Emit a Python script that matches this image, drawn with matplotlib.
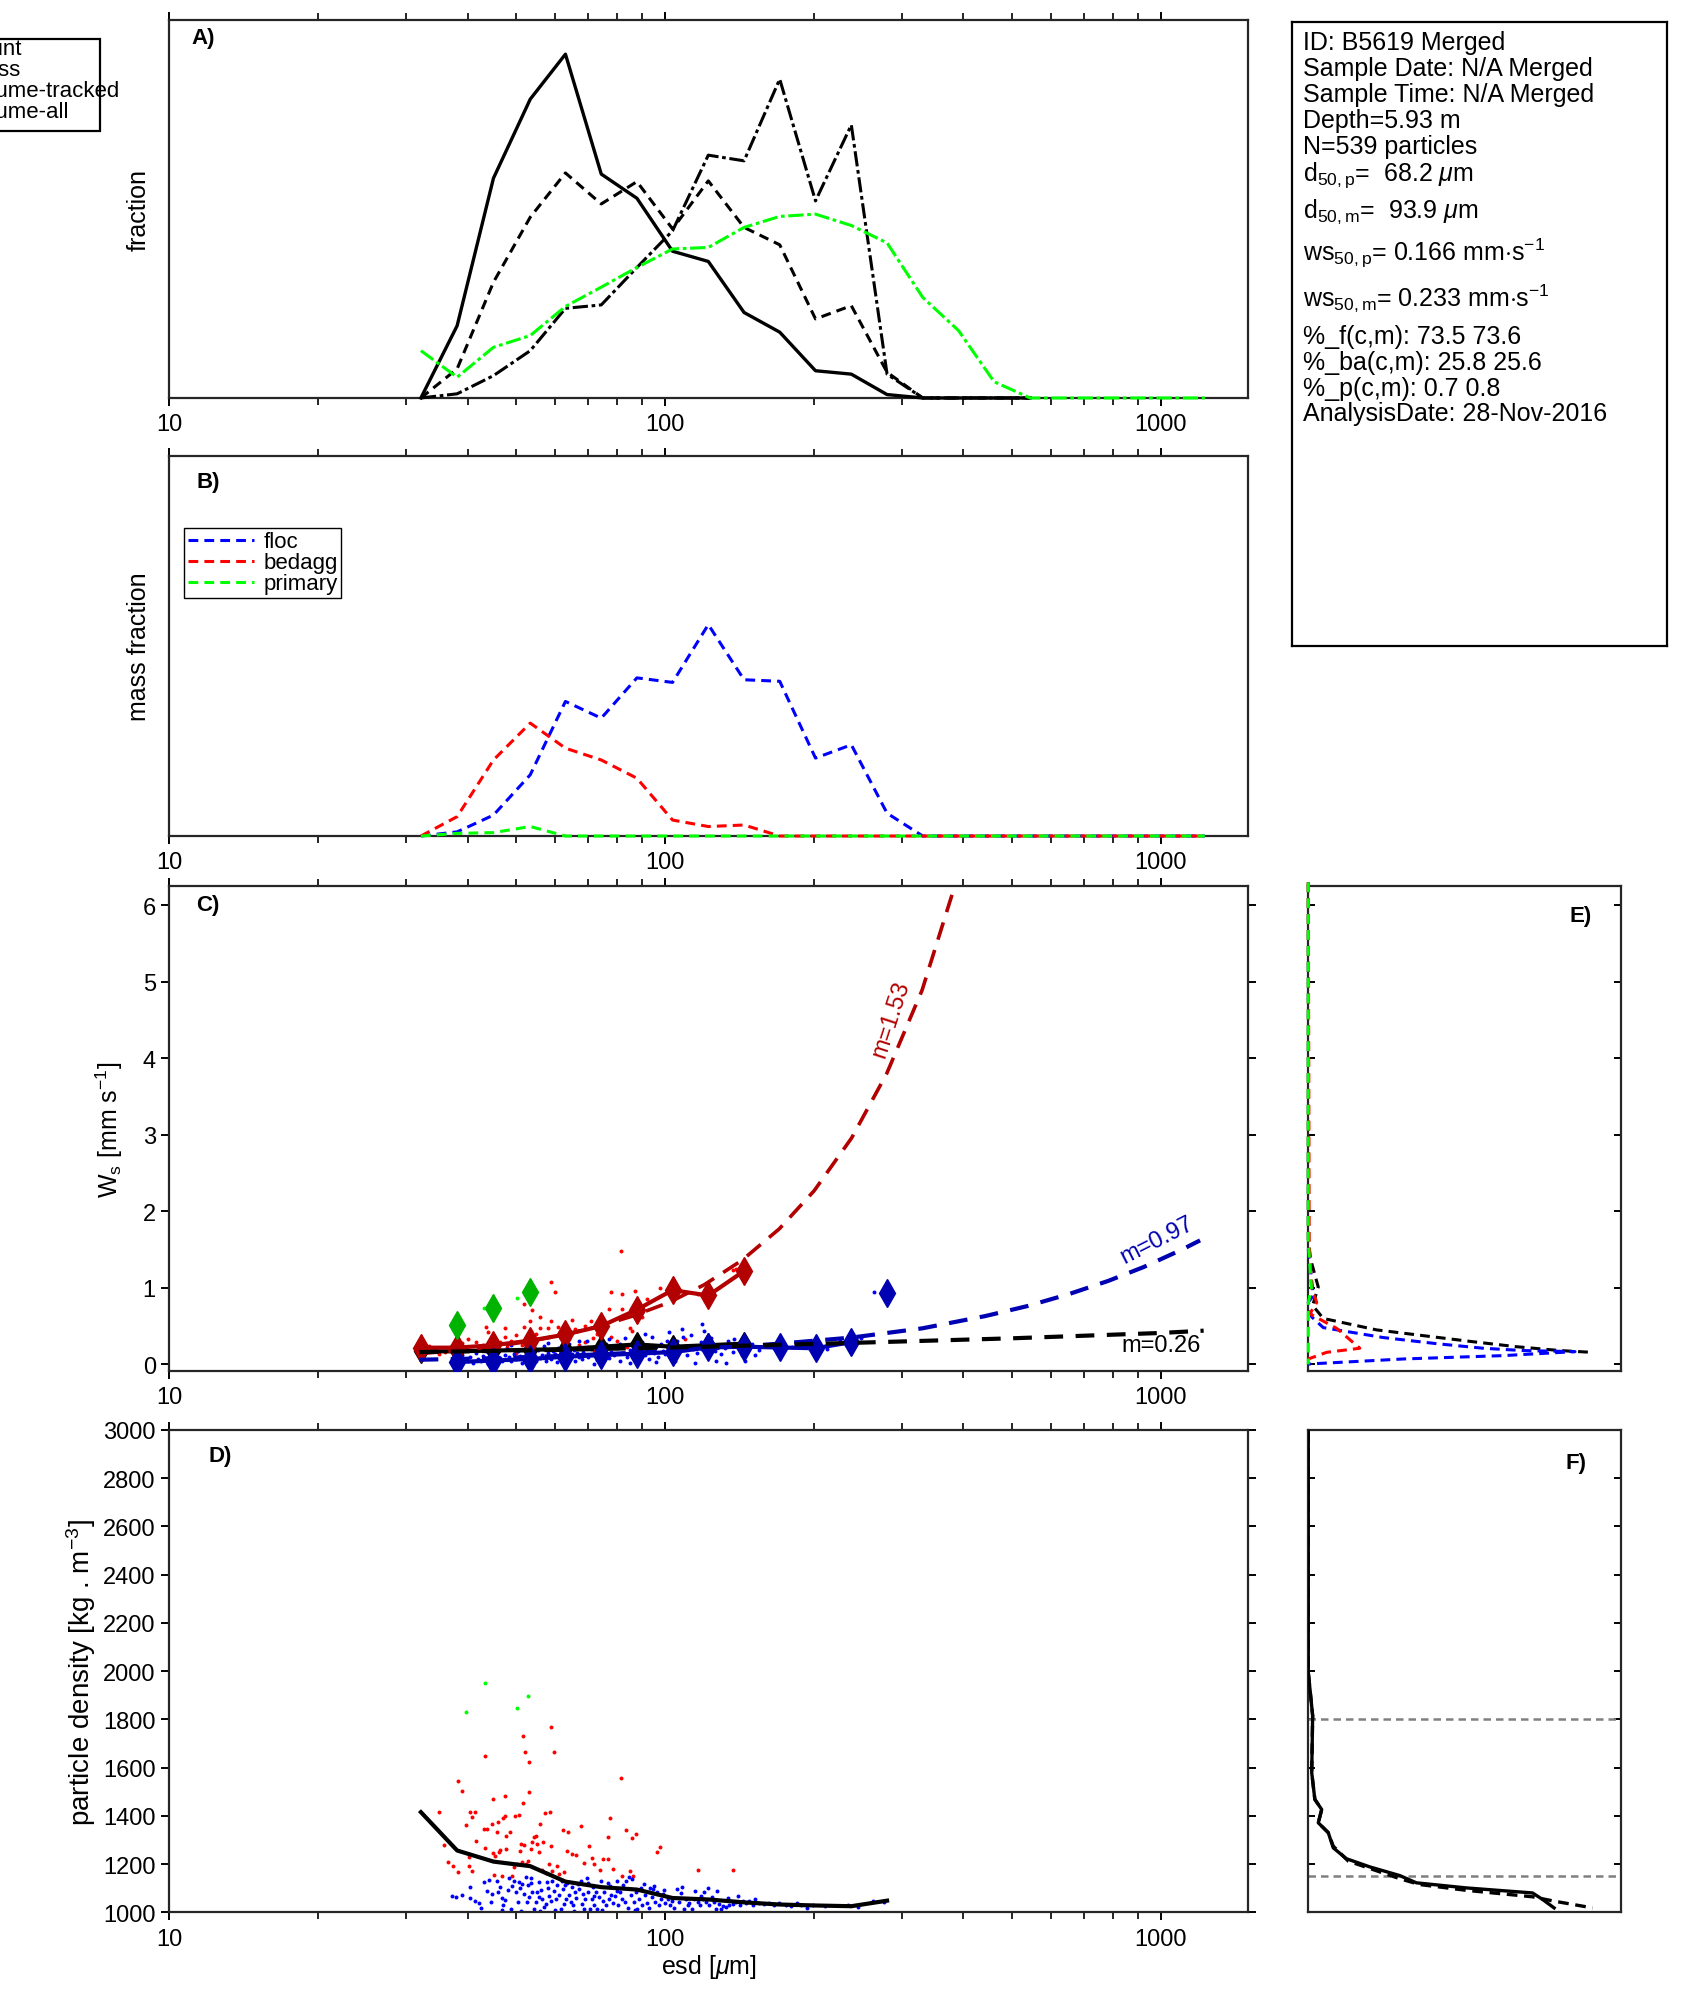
import numpy as np
import matplotlib
matplotlib.use("Agg")
import matplotlib.pyplot as plt
from matplotlib.patches import Rectangle
from matplotlib.ticker import LogLocator, NullFormatter, FixedLocator

plt.rcParams['font.family'] = ['Liberation Sans', 'DejaVu Sans']
plt.rcParams['mathtext.fontset'] = 'custom'
plt.rcParams['mathtext.rm'] = 'Liberation Sans'
plt.rcParams['mathtext.it'] = 'Liberation Sans:italic'
plt.rcParams['axes.linewidth'] = 1.6
plt.rcParams['axes.edgecolor'] = '#262626'

# ---- size bins (esd, um)
bins = [32.2, 38.1, 45.1, 53.5, 63.0, 74.4, 87.8, 103.6, 122.3, 144.4, 170.4, 201.2,
        237.6, 280.5, 331, 391, 461, 545, 643, 759, 896, 1058, 1227]

# ---- panel A (fractions)
frac_count = [0, 0.191, 0.581, 0.790, 0.909, 0.592, 0.528, 0.388, 0.361, 0.226, 0.174,
              0.072, 0.063, 0.009, 0, 0, 0, 0]
frac_mass = [0, 0.077, 0.306, 0.478, 0.595, 0.513, 0.572, 0.447, 0.574, 0.451, 0.405,
             0.209, 0.244, 0.068, 0, 0, 0, 0]
frac_vol_tracked = [0, 0.011, 0.059, 0.125, 0.237, 0.246, 0.345, 0.442, 0.642, 0.627,
                    0.843, 0.521, 0.722, 0.063, 0, 0, 0, 0]
frac_vol_all = [0.125, 0.055, 0.134, 0.165, 0.242, 0.293, 0.345, 0.394, 0.398, 0.451,
                0.480, 0.486, 0.456, 0.410, 0.266, 0.178, 0.043, 0, 0, 0, 0, 0, 0]

# ---- panel B (mass fraction per class)
mass_floc = [0, 0.011, 0.055, 0.161, 0.354, 0.310, 0.416, 0.404, 0.556, 0.411, 0.407,
             0.205, 0.240, 0.060, 0, 0, 0, 0, 0, 0, 0, 0, 0]
mass_bedagg = [0, 0.051, 0.200, 0.297, 0.231, 0.200, 0.152, 0.042, 0.025, 0.029, 0,
               0, 0, 0, 0, 0, 0, 0, 0, 0, 0, 0, 0]
mass_primary = [0, 0.007, 0.009, 0.025, 0, 0, 0, 0, 0, 0, 0, 0, 0, 0, 0, 0, 0, 0, 0,
                0, 0, 0, 0]

# ---- panel C : settling velocity (mm/s)
ws_bedagg_med = [0.218, 0.218, 0.25, 0.31, 0.39, 0.50, 0.715, 0.97, 0.90, 1.22]
ws_floc_med = [0.03, 0.05, 0.07, 0.10, 0.12, 0.14, 0.16, 0.22, 0.23, 0.22, 0.21, 0.29, 0.93]
ws_all_med = [0.17, 0.17, 0.18, 0.19, 0.20, 0.23, 0.26, 0.23, 0.25, 0.27]
ws_primary_med = [0.52, 0.73, 0.94]

fit_bedagg_d = [32, 38, 45, 53, 62, 73, 86, 102, 120, 143, 170, 200, 238, 280, 330, 384, 410]
fit_bedagg_v = [0.14, 0.18, 0.23, 0.30, 0.38, 0.49, 0.63, 0.81, 1.04, 1.36, 1.77, 2.27,
                2.96, 3.80, 4.89, 6.25, 6.80]
fit_floc_d = [32, 45, 62, 86, 120, 170, 238, 330, 442, 537, 654, 783, 922, 1103, 1200]
fit_floc_v = [0.06, 0.08, 0.11, 0.15, 0.20, 0.27, 0.35, 0.47, 0.63, 0.76, 0.92, 1.09,
              1.27, 1.50, 1.62]
fit_all_d = [32, 62, 120, 238, 500, 1000, 1220]
fit_all_v = [0.16, 0.19, 0.23, 0.28, 0.34, 0.41, 0.44]

red_c = [(81.7, 1.48), (58.9, 1.07), (60, 0.95), (52, 0.79), (54, 0.71), (43.5, 0.49),
         (47.6, 0.48), (52, 0.49), (53.5, 0.56), (59, 0.57), (56, 0.48), (55, 0.40),
         (47.5, 0.36), (50, 0.38), (53.5, 0.40), (41.5, 0.29), (43, 0.25), (46.5, 0.29),
         (51.5, 0.25), (58, 0.47), (61, 0.49), (66, 0.46), (69, 0.50), (77.8, 0.94),
         (77, 0.72), (82, 0.92), (87, 0.96), (82, 0.72), (85, 0.48), (86, 0.44),
         (78, 0.36), (73, 0.40), (71.5, 0.34), (69, 0.29), (67, 0.25), (64, 0.33),
         (97.6, 1.0), (116.6, 0.92), (137, 1.23), (139, 1.25), (76, 0.20), (72, 0.18),
         (36, 0.16), (35, 0.14), (33.5, 0.24), (42, 0.20), (50, 0.15), (60, 0.14),
         (45, 0.32), (40, 0.33), (38, 0.36), (56, 0.62), (63, 0.27), (70, 0.22),
         (88, 0.30), (90, 0.62), (98, 0.25), (104, 0.28), (57, 0.20), (48, 0.22),
         (65, 0.58), (74, 0.62), (39, 0.28), (44, 0.42), (62, 0.38), (68, 0.12),
         (80, 0.30), (84, 0.22), (92, 0.86), (110, 0.33), (49, 0.30), (54, 0.27),
         (64, 0.42), (71, 0.56), (46, 0.19), (37, 0.22)]
blue_c = [(38, 0.03), (38.5, 0.08), (39, 0.12), (40, 0.05), (40.5, 0.10), (41, 0.02),
          (41.5, 0.15), (42, 0.07), (42.5, 0.04), (43, 0.11), (43.5, 0.18), (44, 0.06),
          (44.5, 0.09), (45, 0.13), (45.5, 0.03), (46, 0.16), (46.5, 0.08), (47, 0.05),
          (47.5, 0.12), (48, 0.20), (48.5, 0.10), (49, 0.04), (49.5, 0.14), (50, 0.07),
          (50.5, 0.17), (51, 0.11), (51.5, 0.02), (52, 0.09), (52.5, 0.22), (53, 0.13),
          (53.5, 0.06), (54, 0.16), (54.5, 0.10), (55, 0.04), (55.5, 0.19), (56, 0.08),
          (56.5, 0.12), (57, 0.24), (57.5, 0.05), (58, 0.15), (58.5, 0.10), (59, 0.07),
          (59.5, 0.18), (60, 0.13), (60.5, 0.03), (61, 0.21), (61.5, 0.09), (62, 0.14),
          (62.5, 0.06), (63, 0.17), (63.5, 0.11), (64, 0.27), (64.5, 0.08), (65, 0.13),
          (65.5, 0.19), (66, 0.05), (66.5, 0.15), (67, 0.10), (67.5, 0.23), (68, 0.07),
          (68.5, 0.16), (69, 0.12), (69.5, 0.30), (70, 0.09), (71, 0.20), (72, 0.14),
          (73, 0.06), (74, 0.18), (75, 0.11), (76, 0.26), (77, 0.08), (78, 0.16),
          (79, 0.12), (80, 0.21), (81, 0.05), (82, 0.15), (83, 0.34), (84, 0.10),
          (85, 0.19), (86, 0.13), (87, 0.24), (88, 0.08), (89, 0.17), (90, 0.29),
          (91, 0.12), (92, 0.20), (93, 0.07), (94, 0.36), (95, 0.15), (96, 0.22),
          (97, 0.10), (98, 0.27), (99, 0.18), (100, 0.13), (102, 0.42), (103, 0.21),
          (104, 0.09), (106, 0.31), (107, 0.17), (108, 0.46), (110, 0.24), (111, 0.12),
          (113, 0.38), (114, 0.20), (116, 0.15), (118, 0.29), (119, 0.53), (121, 0.22),
          (122, 0.10), (124, 0.34), (126, 0.18), (128, 0.25), (130, 0.13), (132, 0.21),
          (134, 0.30), (137, 0.16), (140, 0.24), (143, 0.12), (146, 0.20), (150, 0.27),
          (155, 0.19), (160, 0.24), (166, 0.21), (172, 0.26), (180, 0.22), (190, 0.23),
          (200, 0.25), (212, 0.20), (225, 0.30), (238, 0.28), (248, 0.34), (264, 0.94),
          (44, 0.01), (49, 0.25), (53, 0.01), (58, 0.28), (63, 0.02), (67, 0.30),
          (72, 0.01), (77, 0.33), (81, 0.27), (85, 0.02), (91, 0.40), (96, 0.03),
          (101, 0.30), (105, 0.04), (109, 0.36), (115, 0.02), (120, 0.44), (127, 0.05),
          (133, 0.02), (138, 0.33), (145, 0.04), (152, 0.12)]
green_c = [(43.2, 0.73), (50.4, 0.87)]

# ---- panel D : particle density (kg/m3)
rho_line = [1415, 1256, 1210, 1191, 1127, 1104, 1094, 1059, 1053, 1041, 1032, 1028, 1025, 1048]
red_d = [(35.0, 1415), (35.8, 1279), (36.5, 1207), (37.4, 1191), (38.3, 1166), (38.3, 1543),
         (38.9, 1502), (39.7, 1362), (40.2, 1228), (40.2, 1191), (40.5, 1415), (40.8, 1394),
         (40.8, 1169), (41.4, 1415), (41.5, 1297), (43.2, 1345), (43.4, 1265), (43.4, 1647),
         (43.7, 1345), (44.9, 1366), (45.1, 1470), (45.1, 1246), (45.3, 1155), (45.5, 1232),
         (45.8, 1334), (46.0, 1373), (46.3, 1249), (46.6, 1256), (46.9, 1152), (47.2, 1390),
         (47.6, 1401), (47.6, 1484), (47.8, 1315), (47.9, 1263), (48.6, 1332), (49.1, 1152),
         (49.6, 1187), (49.9, 1401), (50.2, 1200), (50.8, 1404), (50.9, 1252), (51.2, 1283),
         (51.4, 1210), (51.7, 1453), (51.7, 1730), (51.9, 1279), (52.2, 1663), (52.4, 1200),
         (52.9, 1214), (53.2, 1500), (53.3, 1622), (53.6, 1263), (54.0, 1290), (54.4, 1311),
         (54.9, 1318), (55.3, 1283), (55.7, 1249), (56.1, 1365), (56.4, 1175), (56.8, 1290),
         (57.3, 1410), (57.6, 1162), (58.4, 1200), (58.6, 1417), (58.8, 1276), (58.8, 1767),
         (59.3, 1169), (59.8, 1663), (60.5, 1193), (61.2, 1159), (62.3, 1343), (62.6, 1166),
         (63.6, 1252), (63.9, 1332), (64.9, 1242), (66.3, 1238), (67.7, 1359), (68.8, 1205),
         (70.3, 1274), (71.4, 1224), (72.0, 1200), (74.1, 1177), (75.1, 1221), (76.6, 1221),
         (76.6, 1311), (77.4, 1390), (78.4, 1180), (81.5, 1556), (81.9, 1152), (83.4, 1341),
         (85.0, 1173), (86.0, 1307), (86.4, 1152), (87.4, 1325), (96.6, 1249), (97.7, 1269),
         (116.4, 1175), (137.0, 1175)]
green_d = [(39.7, 1829), (43.4, 1949), (50.4, 1846), (53.0, 1896)]
blue_d = [(37.2, 1066), (37.9, 1062), (39.0, 1072), (40.4, 1058), (40.5, 1104), (41.4, 1046),
          (42.2, 1039), (42.5, 1017), (43.2, 1124), (44.2, 1134), (44.5, 1041), (44.7, 1076),
          (45.9, 1131), (46.1, 1083), (46.6, 1104), (47.0, 1059), (47.1, 1028), (47.6, 1051),
          (48.3, 1094), (48.5, 1141), (48.9, 1014), (49.6, 1131), (50.0, 1083), (50.5, 1041),
          (50.8, 1127), (51.0, 1100), (51.6, 1117), (52.0, 1076), (52.4, 1145), (52.6, 1041),
          (53.0, 1111), (53.3, 1062), (53.6, 1141), (54.0, 1083), (54.5, 1014), (54.9, 1041),
          (55.3, 1083), (55.6, 1127), (55.7, 1062), (56.2, 1094), (56.6, 1055), (57.0, 1023),
          (57.5, 1035), (57.9, 1124), (58.4, 1069), (58.9, 1048), (59.3, 1131), (59.8, 1086),
          (60.3, 1055), (60.7, 1111), (61.2, 1072), (61.7, 1014), (62.0, 1131), (62.2, 1097),
          (62.6, 1035), (63.1, 1055), (63.6, 1122), (64.1, 1072), (64.6, 1041), (64.9, 1104),
          (65.3, 1028), (65.9, 1083), (66.3, 1058), (66.9, 1117), (67.7, 1131), (68.0, 1035),
          (68.2, 1076), (68.7, 1014), (69.1, 1053), (69.5, 1141), (70.1, 1083), (70.6, 1014),
          (71.2, 1055), (71.7, 1104), (72.0, 1028), (72.6, 1083), (73.1, 1014), (73.5, 1062),
          (74.3, 1131), (74.9, 1048), (75.4, 1083), (76.0, 1028), (76.6, 1122), (77.2, 1053),
          (77.8, 1072), (78.4, 1039), (79.4, 1069), (79.9, 1131), (80.6, 1028), (81.1, 1083),
          (81.9, 1055), (82.4, 1111), (83.1, 1044), (84.1, 1017), (84.7, 1145), (85.4, 1072),
          (86.0, 1138), (86.7, 1044), (87.4, 1083), (88.0, 1014), (88.7, 1055), (89.4, 1100),
          (90.1, 1028), (91.3, 1072), (91.8, 1039), (92.7, 1017), (93.3, 1100), (94.1, 1062),
          (94.7, 1097), (95.6, 1044), (96.6, 1083), (97.4, 1028), (98.1, 1055), (98.9, 1076),
          (100.2, 1039), (101.2, 1055), (102.3, 1028), (103.3, 1048), (104.4, 1017),
          (105.6, 1097), (106.9, 1044), (108.2, 1104), (109.4, 1014), (110.3, 1055),
          (111.1, 1028), (112.0, 1039), (113.4, 1014), (114.6, 1055), (115.1, 1090),
          (116.4, 1041), (117.7, 1028), (119.1, 1053), (120.1, 1083), (121.0, 1044),
          (122.0, 1100), (122.9, 1030), (124.4, 1062), (125.8, 1041), (127.2, 1090),
          (128.3, 1035), (129.7, 1014), (130.7, 1025), (132.8, 1021), (134.8, 1028),
          (137.0, 1035), (139.1, 1044), (140.2, 1069), (141.7, 1028), (143.5, 1048),
          (145.7, 1039), (148.0, 1048), (150.3, 1030), (152.1, 1053), (155.0, 1039),
          (158.6, 1035), (162.3, 1039), (166.2, 1028), (170.2, 1039), (175.5, 1030),
          (179.6, 1025), (184.5, 1037), (188.2, 1028), (193.3, 1017), (198.7, 1028),
          (209.8, 1025), (233.6, 1030), (244.7, 1022), (262.5, 1048), (277.0, 1044),
          (43.8, 1089), (46.9, 1008), (49.2, 1110), (51.3, 1006), (53.8, 1120), (56.0, 1007),
          (58.1, 1100), (60.0, 1009), (62.9, 1115), (65.6, 1005), (67.2, 1096), (69.9, 1120),
          (71.9, 1066), (74.6, 1008), (77.5, 1108), (80.2, 1090), (83.6, 1128), (87.0, 1008),
          (90.6, 1118), (95.1, 1110), (99.6, 1092), (107.5, 1078), (118.4, 1066),
          (126.5, 1012), (133.9, 1060)]

# ---- panel E : ws distributions (fraction, ws)
e_all_x = [0, 0, 0.007, 0.032, 0.014, 0.048, 0.219, 0.358, 0.518, 0.667, 0.806, 0.907]
e_all_y = [6.3, 1.64, 1.38, 1.01, 0.77, 0.60, 0.45, 0.38, 0.30, 0.23, 0.18, 0.157]
e_floc_x = [0, 0.016, 0, 0.011, 0.048, 0.240, 0.411, 0.560, 0.688, 0.854, 0.624, 0.304, 0]
e_floc_y = [1.51, 0.90, 0.81, 0.62, 0.48, 0.35, 0.27, 0.21, 0.18, 0.166, 0.114, 0.07, 0.004]
e_bedagg_x = [0, 0.003, 0.011, 0.027, 0.005, 0.091, 0.165, 0.059, 0]
e_bedagg_y = [6.3, 1.55, 0.99, 0.81, 0.66, 0.47, 0.21, 0.157, 0.07]
e_primary_x = [0, 0, 0.010, 0, 0]
e_primary_y = [6.3, 1.6, 1.0, 0.8, 0.0]

# ---- panel F : density distributions (fraction, density)
f_solid_x = [0, 0, 0.014, 0.011, 0.021, 0.043, 0.032, 0.064, 0.080, 0.122, 0.197, 0.293,
             0.346, 0.505, 0.718, 0.750, 0.787]
f_solid_y = [2993, 1995, 1815, 1579, 1468, 1426, 1371, 1330, 1267, 1222, 1188, 1152,
             1122, 1101, 1080, 1053, 1018]
f_dash_x = [0, 0, 0.014, 0.011, 0.021, 0.043, 0.032, 0.064, 0.080, 0.128, 0.293, 0.356,
            0.505, 0.718, 0.787, 0.910]
f_dash_y = [2993, 1995, 1815, 1579, 1468, 1426, 1371, 1330, 1274, 1212, 1139, 1115,
            1091, 1064, 1046, 1018]
f_limits = [1800, 1150]

info_lines = [
    ('ID: B5619 Merged', 50),
    ('Sample Date: N/A Merged', 76),
    ('Sample Time: N/A Merged', 102),
    ('Depth=5.93 m', 128),
    ('N=539 particles', 154),
    (r'd$_{\mathrm{50,p}}$=  68.2 $\mu$m', 181),
    (r'd$_{\mathrm{50,m}}$=  93.9 $\mu$m', 218),
    (r'ws$_{\mathrm{50,p}}$= 0.166 mm$\cdot$s$^{\mathrm{-1}}$', 261),
    (r'ws$_{\mathrm{50,m}}$= 0.233 mm$\cdot$s$^{\mathrm{-1}}$', 306),
    ('%_f(c,m): 73.5 73.6', 344),
    ('%_ba(c,m): 25.8 25.6', 370),
    ('%_p(c,m): 0.7 0.8', 396),
    ('AnalysisDate: 28-Nov-2016', 421),
]

DARKRED = (0.7, 0, 0)
DARKBLUE = (0, 0, 0.7)
DARKGREEN = (0, 0.7, 0)
LIME = (0, 1, 0)
FS = 17
LFS = 18

fig = plt.figure(figsize=(16.94, 20.15), dpi=100)


def logx(ax):
    ax.set_xscale('log')
    ax.set_xlim(10, 1500)
    ax.xaxis.set_major_locator(FixedLocator([10, 100, 1000]))
    ax.xaxis.set_minor_locator(LogLocator(base=10, subs=np.arange(2, 10)))
    ax.xaxis.set_minor_formatter(NullFormatter())
    ax.set_xticklabels(['10', '100', '1000'])
    ax.tick_params(axis='x', which='major', direction='out', length=6, width=1.4,
                   top=True, labelsize=FS, pad=5)
    ax.tick_params(axis='x', which='minor', direction='out', length=5, width=1.2, top=True)


def panel_label(ax, s, x, y):
    ax.text(x, y, s, transform=ax.transAxes, fontsize=16, fontweight='bold',
            ha='left', va='center')


# ----- A
axA = fig.add_axes([0.0998, 0.802, 0.637, 0.1877])
nb = len(frac_count)
lA1, = axA.plot(bins[:nb], frac_count, color='k', lw=2.4, ls='-', clip_on=False, zorder=3)
lA2, = axA.plot(bins[:nb], frac_mass, color='k', lw=2.2, dashes=(3.2, 2.0), clip_on=False, zorder=3)
lA3, = axA.plot(bins[:nb], frac_vol_tracked, color='k', lw=2.2, dashes=(5, 1.2, 1.2, 1.2),
                clip_on=False, zorder=3)
lA4, = axA.plot(bins, frac_vol_all, color=LIME, lw=2.2, dashes=(5, 1.2, 1.2, 1.2),
                clip_on=False, zorder=3)
axA.set_ylim(0, 1)
axA.set_yticks([])
logx(axA)
axA.set_ylabel('fraction', fontsize=LFS)
axA.yaxis.set_label_coords(-0.017, 0.5)
panel_label(axA, 'A)', 0.021, 0.953)
fig.legend([lA1, lA2, lA3, lA4], ['count', 'mass', 'volume-tracked', 'volume-all'],
           loc='upper right', bbox_to_anchor=(0.072, 0.9815), fontsize=16,
           frameon=False, labelspacing=0.0, borderpad=0.1, handlelength=2.5,
           handletextpad=0.5, borderaxespad=0)
fig.patches.append(Rectangle((-0.01, 0.9344), 0.0691, 0.0459, transform=fig.transFigure,
                             fill=False, ec='k', lw=1.6))

# ----- B
axB = fig.add_axes([0.0998, 0.5846, 0.637, 0.1887])
lB1, = axB.plot(bins, mass_floc, color='b', lw=2.2, dashes=(3.2, 2.0), clip_on=False, zorder=3)
lB2, = axB.plot(bins, mass_bedagg, color='r', lw=2.2, dashes=(3.2, 2.0), clip_on=False, zorder=3)
lB3, = axB.plot(bins, mass_primary, color=LIME, lw=2.2, dashes=(3.2, 2.0), clip_on=False, zorder=3)
axB.set_ylim(0, 1)
axB.set_yticks([])
logx(axB)
axB.set_ylabel('mass fraction', fontsize=LFS)
axB.yaxis.set_label_coords(-0.017, 0.5)
panel_label(axB, 'B)', 0.025, 0.932)
axB.legend([lB1, lB2, lB3], ['floc', 'bedagg', 'primary'], loc='upper left',
           bbox_to_anchor=(0.0143, 0.81), fontsize=16, frameon=True, fancybox=False,
           edgecolor='k', framealpha=1, labelspacing=0.0, borderpad=0.15,
           handlelength=3, handletextpad=0.4, borderaxespad=0)

# ----- C
axC = fig.add_axes([0.0998, 0.319, 0.637, 0.2407])
axC.scatter([p[0] for p in red_c], [p[1] for p in red_c], s=8, color='r', lw=0, zorder=2)
axC.scatter([p[0] for p in blue_c], [p[1] for p in blue_c], s=8, color='b', lw=0, zorder=2)
axC.scatter([p[0] for p in green_c], [p[1] for p in green_c], s=8, color=LIME, lw=0, zorder=2)
axC.plot(bins[:10], ws_bedagg_med, color=DARKRED, lw=3, marker='d', ms=14, zorder=4)
axC.plot(bins[1:13], ws_floc_med[:12], color=DARKBLUE, lw=3, marker='d', ms=14, zorder=4)
axC.plot(bins[13:14], ws_floc_med[12:], color=DARKBLUE, ls='none', marker='d', ms=14, zorder=4)
axC.plot(bins[:10], ws_all_med, color='k', lw=3, marker='d', ms=12, zorder=3)
axC.plot(bins[1:4], ws_primary_med, color=DARKGREEN, ls='none', marker='d', ms=14, zorder=4)
axC.plot(fit_bedagg_d, fit_bedagg_v, color=DARKRED, lw=2.6, dashes=(5, 3), zorder=5)
axC.plot(fit_floc_d, fit_floc_v, color=DARKBLUE, lw=3, dashes=(4.5, 3), zorder=5)
axC.plot(fit_all_d, fit_all_v, color='k', lw=3, dashes=(4.5, 3), zorder=5)
axC.text(286, 4.52, 'm=1.53', color=DARKRED, fontsize=FS, rotation=72,
         ha='center', va='center')
axC.text(985, 1.63, 'm=0.97', color=DARKBLUE, fontsize=FS, rotation=27,
         ha='center', va='center')
axC.text(1000, 0.25, 'm=0.26', color='k', fontsize=FS, ha='center', va='center')
axC.set_ylim(-0.09, 6.25)
axC.set_yticks([0, 1, 2, 3, 4, 5, 6])
axC.tick_params(axis='y', direction='out', length=6, width=1.4, right=True, labelsize=FS)
logx(axC)
axC.set_ylabel(r'W$_{\mathrm{s}}$ [mm s$^{\mathrm{-1}}$]', fontsize=LFS)
axC.yaxis.set_label_coords(-0.041, 0.5)
panel_label(axC, 'C)', 0.025, 0.963)

# ----- D
axD = fig.add_axes([0.0998, 0.0505, 0.637, 0.2394])
axD.scatter([p[0] for p in red_d], [p[1] for p in red_d], s=8, color='r', lw=0, zorder=2)
axD.scatter([p[0] for p in blue_d], [p[1] for p in blue_d], s=8, color='b', lw=0, zorder=2)
axD.scatter([p[0] for p in green_d], [p[1] for p in green_d], s=8, color=LIME, lw=0, zorder=2)
axD.plot(bins[:14], rho_line, color='k', lw=3, zorder=3)
axD.set_ylim(1000, 3000)
axD.set_yticks(np.arange(1000, 3001, 200))
axD.tick_params(axis='y', direction='out', length=6, width=1.4, right=True, labelsize=FS)
logx(axD)
axD.set_xlabel(r'esd [$\mu$m]', fontsize=LFS, labelpad=2)
axD.set_ylabel(r'particle density [kg . m$^{\mathrm{-3}}$]', fontsize=LFS + 2)
axD.yaxis.set_label_coords(-0.066, 0.5)
panel_label(axD, 'D)', 0.037, 0.947)

# ----- info box
axT = fig.add_axes([0.7625, 0.6791, 0.2214, 0.3093])
axT.set_xticks([])
axT.set_yticks([])
for sp in axT.spines.values():
    sp.set_color('k')
for txt, base in info_lines:
    fig.text(0.7692, 1 - base / 2015, txt, fontsize=18, ha='left', va='baseline')

# ----- E
axE = fig.add_axes([0.7723, 0.319, 0.1844, 0.2407])
for xs, ys, c in [(e_all_x, e_all_y, 'k'), (e_floc_x, e_floc_y, 'b'),
                  (e_bedagg_x, e_bedagg_y, 'r'), (e_primary_x, e_primary_y, LIME)]:
    axE.plot(xs, ys, color=c, lw=2.2, dashes=(3.2, 2.0), clip_on=False, zorder=3)
axE.set_xlim(0, 1)
axE.set_ylim(-0.09, 6.25)
axE.set_xticks([])
axE.set_yticks([0, 1, 2, 3, 4, 5, 6])
axE.tick_params(axis='y', direction='in', length=5, width=1.4, right=True,
                labelleft=False)
panel_label(axE, 'E)', 0.835, 0.94)

# ----- F
axF = fig.add_axes([0.7723, 0.0505, 0.1844, 0.2394])
for lim in f_limits:
    axF.axhline(lim, color='0.5', lw=1.8, dashes=(3, 2))
axF.plot(f_dash_x, f_dash_y, color='k', lw=2.4, dashes=(3.2, 2.0), zorder=3)
axF.plot(f_solid_x, f_solid_y, color='k', lw=2.4, zorder=3)
axF.set_xlim(0, 1)
axF.set_ylim(1000, 3000)
axF.set_xticks([])
axF.set_yticks(np.arange(1000, 3001, 200))
axF.tick_params(axis='y', direction='in', length=5, width=1.4, right=True,
                labelleft=False)
panel_label(axF, 'F)', 0.823, 0.933)

fig.savefig('out.png', dpi=100)
